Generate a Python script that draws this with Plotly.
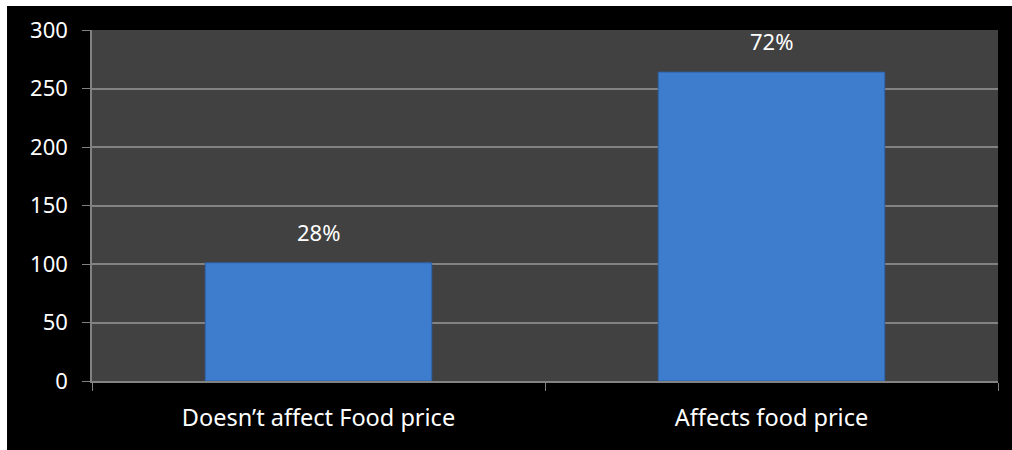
import plotly.graph_objects as go

categories = ["Doesn’t affect Food price", "Affects food price"]
values = [101, 264]
pct_labels = ["28%", "72%"]
y_ticks = [0, 50, 100, 150, 200, 250, 300]

FONT = "Noto Sans"
fig = go.Figure()
fig.add_trace(go.Bar(
    x=categories, y=values,
    marker=dict(color="#3e7cce", line=dict(color="#2f62a8", width=1)),
    hoverinfo="skip",
))

for c, v, t in zip(categories, values, pct_labels):
    fig.add_annotation(x=c, y=v, text=t, showarrow=False, yanchor="bottom",
                       yshift=14, font=dict(family=FONT, size=22, color="white"))

# white edges around the black frame
fig.add_shape(type="rect", xref="paper", yref="paper", x0=-0.2, x1=1.1,
              y0=1.0684, y1=1.2, fillcolor="white", line=dict(width=0), layer="above")
fig.add_shape(type="rect", xref="paper", yref="paper", x0=-0.2, x1=-0.0938,
              y0=-0.3, y1=1.2, fillcolor="white", line=dict(width=0), layer="above")

fig.update_layout(
    width=1012, height=450,
    margin=dict(l=92, r=14, t=30, b=69),
    paper_bgcolor="black", plot_bgcolor="#414141",
    bargap=0.5, showlegend=False,
    font=dict(family=FONT, size=22, color="white"),
)
fig.update_yaxes(range=[0, 300], tickvals=y_ticks, showgrid=True, gridcolor="#828282",
                 gridwidth=1.5, showline=True, linecolor="#828282", linewidth=1.5,
                 ticks="outside", ticklen=8, tickcolor="#828282", zeroline=False,
                 ticklabelstandoff=10, tickfont=dict(family=FONT, size=22, color="white"))
fig.update_xaxes(showline=True, linecolor="#828282", linewidth=1.5, ticks="outside",
                 ticklen=8, tickcolor="#828282", tickson="boundaries",
                 ticklabelstandoff=15,
                 tickfont=dict(family=FONT, size=23.5, color="white"))

fig.write_html("out.html")
